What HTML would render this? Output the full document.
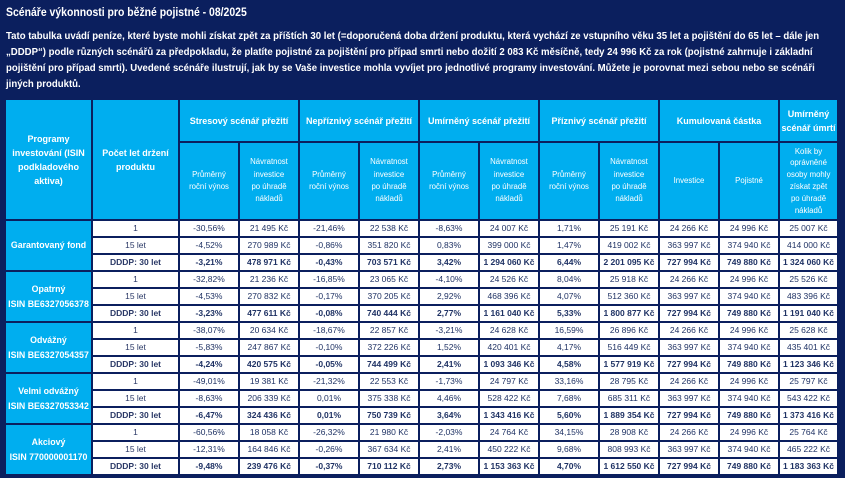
<!DOCTYPE html>
<html><head><meta charset="utf-8">
<style>
body{margin:0;width:845px;height:478px;background:#0b1f5e;overflow:hidden;font-family:"Liberation Sans",sans-serif;position:relative}
.t{position:absolute;left:6px;color:#fff;white-space:nowrap;transform-origin:0 0}
.title{top:5px;font-size:12px;font-weight:bold;transform:scaleX(0.87)}
.p{font-size:10px;font-weight:bold;transform:scaleX(0.96)}
table{position:absolute;left:4px;top:98px;border-collapse:separate;border-spacing:2px;table-layout:fixed}
td{padding:0;text-align:center;overflow:hidden;white-space:nowrap;font-size:8.5px;color:#1f3264;background:#fff;height:15px;line-height:15px}
td.h{background:#00aeef;color:#fff;font-weight:bold;font-size:9px;white-space:normal;line-height:14px}
td.s{background:#00aeef;color:#fff;font-size:7.8px;white-space:normal;line-height:12.3px}
td.l{background:#00aeef;color:#fff;font-weight:bold;font-size:8.8px;line-height:15px}
td.y{color:#2a3866}
tr.b td{font-weight:bold}
</style></head><body>
<div class="t title">Scénáře výkonnosti pro běžné pojistné - 08/2025</div>
<div class="t p" style="top:31px">Tato tabulka uvádí peníze, které byste mohli získat zpět za příštích 30 let (=doporučená doba držení produktu, která vychází ze vstupního věku 35 let a pojištění do 65 let – dále jen</div>
<div class="t p" style="top:47px">„DDDP“) podle různých scénářů za předpokladu, že platíte pojistné za pojištění pro případ smrti nebo dožití 2 083 Kč měsíčně, tedy 24 996 Kč za rok (pojistné zahrnuje i základní</div>
<div class="t p" style="top:63px">pojištění pro případ smrti). Uvedené scénáře ilustrují, jak by se Vaše investice mohla vyvíjet pro jednotlivé programy investování. Můžete je porovnat mezi sebou nebo se scénáři</div>
<div class="t p" style="top:79px">jiných produktů.</div>
<table>
<colgroup><col style="width:85px"><col style="width:85px"><col style="width:58px"><col style="width:58px"><col style="width:58px"><col style="width:58px"><col style="width:58px"><col style="width:58px"><col style="width:58px"><col style="width:58px"><col style="width:58px"><col style="width:58px"><col style="width:57px"></colgroup>
<tr><td class="h" rowspan="2">Programy<br>investování (ISIN<br>podkladového<br>aktiva)</td><td class="h" rowspan="2">Počet let držení<br>produktu</td><td class="h" colspan="2" style="height:41px">Stresový scénář přežití</td><td class="h" colspan="2">Nepříznivý scénář přežití</td><td class="h" colspan="2">Umírněný scénář přežití</td><td class="h" colspan="2">Příznivý scénář přežití</td><td class="h" colspan="2">Kumulovaná částka</td><td class="h">Umírněný<br>scénář úmrtí</td></tr>
<tr><td class="s" style="height:76px">Průměrný<br>roční výnos</td><td class="s">Návratnost<br>investice<br>po úhradě<br>nákladů</td><td class="s">Průměrný<br>roční výnos</td><td class="s">Návratnost<br>investice<br>po úhradě<br>nákladů</td><td class="s">Průměrný<br>roční výnos</td><td class="s">Návratnost<br>investice<br>po úhradě<br>nákladů</td><td class="s">Průměrný<br>roční výnos</td><td class="s">Návratnost<br>investice<br>po úhradě<br>nákladů</td><td class="s">Investice</td><td class="s">Pojistné</td><td class="s" style="line-height:11.8px">Kolik by<br>oprávněné<br>osoby mohly<br>získat zpět<br>po úhradě<br>nákladů</td></tr>

<tr><td class="l" rowspan="3">Garantovaný fond</td><td class="y">1</td><td>-30,56%</td><td>21 495 Kč</td><td>-21,46%</td><td>22 538 Kč</td><td>-8,63%</td><td>24 007 Kč</td><td>1,71%</td><td>25 191 Kč</td><td>24 266 Kč</td><td>24 996 Kč</td><td>25 007 Kč</td></tr>
<tr><td class="y">15 let</td><td>-4,52%</td><td>270 989 Kč</td><td>-0,86%</td><td>351 820 Kč</td><td>0,83%</td><td>399 000 Kč</td><td>1,47%</td><td>419 002 Kč</td><td>363 997 Kč</td><td>374 940 Kč</td><td>414 000 Kč</td></tr>
<tr class="b"><td class="y">DDDP: 30 let</td><td>-3,21%</td><td>478 971 Kč</td><td>-0,43%</td><td>703 571 Kč</td><td>3,42%</td><td>1 294 060 Kč</td><td>6,44%</td><td>2 201 095 Kč</td><td>727 994 Kč</td><td>749 880 Kč</td><td>1 324 060 Kč</td></tr>

<tr><td class="l" rowspan="3">Opatrný<br>ISIN BE6327056378</td><td class="y">1</td><td>-32,82%</td><td>21 236 Kč</td><td>-16,85%</td><td>23 065 Kč</td><td>-4,10%</td><td>24 526 Kč</td><td>8,04%</td><td>25 918 Kč</td><td>24 266 Kč</td><td>24 996 Kč</td><td>25 526 Kč</td></tr>
<tr><td class="y">15 let</td><td>-4,53%</td><td>270 832 Kč</td><td>-0,17%</td><td>370 205 Kč</td><td>2,92%</td><td>468 396 Kč</td><td>4,07%</td><td>512 360 Kč</td><td>363 997 Kč</td><td>374 940 Kč</td><td>483 396 Kč</td></tr>
<tr class="b"><td class="y">DDDP: 30 let</td><td>-3,23%</td><td>477 611 Kč</td><td>-0,08%</td><td>740 444 Kč</td><td>2,77%</td><td>1 161 040 Kč</td><td>5,33%</td><td>1 800 877 Kč</td><td>727 994 Kč</td><td>749 880 Kč</td><td>1 191 040 Kč</td></tr>

<tr><td class="l" rowspan="3">Odvážný<br>ISIN BE6327054357</td><td class="y">1</td><td>-38,07%</td><td>20 634 Kč</td><td>-18,67%</td><td>22 857 Kč</td><td>-3,21%</td><td>24 628 Kč</td><td>16,59%</td><td>26 896 Kč</td><td>24 266 Kč</td><td>24 996 Kč</td><td>25 628 Kč</td></tr>
<tr><td class="y">15 let</td><td>-5,83%</td><td>247 867 Kč</td><td>-0,10%</td><td>372 226 Kč</td><td>1,52%</td><td>420 401 Kč</td><td>4,17%</td><td>516 449 Kč</td><td>363 997 Kč</td><td>374 940 Kč</td><td>435 401 Kč</td></tr>
<tr class="b"><td class="y">DDDP: 30 let</td><td>-4,24%</td><td>420 575 Kč</td><td>-0,05%</td><td>744 499 Kč</td><td>2,41%</td><td>1 093 346 Kč</td><td>4,58%</td><td>1 577 919 Kč</td><td>727 994 Kč</td><td>749 880 Kč</td><td>1 123 346 Kč</td></tr>

<tr><td class="l" rowspan="3">Velmi odvážný<br>ISIN BE6327053342</td><td class="y">1</td><td>-49,01%</td><td>19 381 Kč</td><td>-21,32%</td><td>22 553 Kč</td><td>-1,73%</td><td>24 797 Kč</td><td>33,16%</td><td>28 795 Kč</td><td>24 266 Kč</td><td>24 996 Kč</td><td>25 797 Kč</td></tr>
<tr><td class="y">15 let</td><td>-8,63%</td><td>206 339 Kč</td><td>0,01%</td><td>375 338 Kč</td><td>4,46%</td><td>528 422 Kč</td><td>7,68%</td><td>685 311 Kč</td><td>363 997 Kč</td><td>374 940 Kč</td><td>543 422 Kč</td></tr>
<tr class="b"><td class="y">DDDP: 30 let</td><td>-6,47%</td><td>324 436 Kč</td><td>0,01%</td><td>750 739 Kč</td><td>3,64%</td><td>1 343 416 Kč</td><td>5,60%</td><td>1 889 354 Kč</td><td>727 994 Kč</td><td>749 880 Kč</td><td>1 373 416 Kč</td></tr>

<tr><td class="l" rowspan="3">Akciový<br>ISIN 770000001170</td><td class="y">1</td><td>-60,56%</td><td>18 058 Kč</td><td>-26,32%</td><td>21 980 Kč</td><td>-2,03%</td><td>24 764 Kč</td><td>34,15%</td><td>28 908 Kč</td><td>24 266 Kč</td><td>24 996 Kč</td><td>25 764 Kč</td></tr>
<tr><td class="y">15 let</td><td>-12,31%</td><td>164 846 Kč</td><td>-0,26%</td><td>367 634 Kč</td><td>2,41%</td><td>450 222 Kč</td><td>9,68%</td><td>808 993 Kč</td><td>363 997 Kč</td><td>374 940 Kč</td><td>465 222 Kč</td></tr>
<tr class="b"><td class="y">DDDP: 30 let</td><td>-9,48%</td><td>239 476 Kč</td><td>-0,37%</td><td>710 112 Kč</td><td>2,73%</td><td>1 153 363 Kč</td><td>4,70%</td><td>1 612 550 Kč</td><td>727 994 Kč</td><td>749 880 Kč</td><td>1 183 363 Kč</td></tr>
</table>
</body></html>
